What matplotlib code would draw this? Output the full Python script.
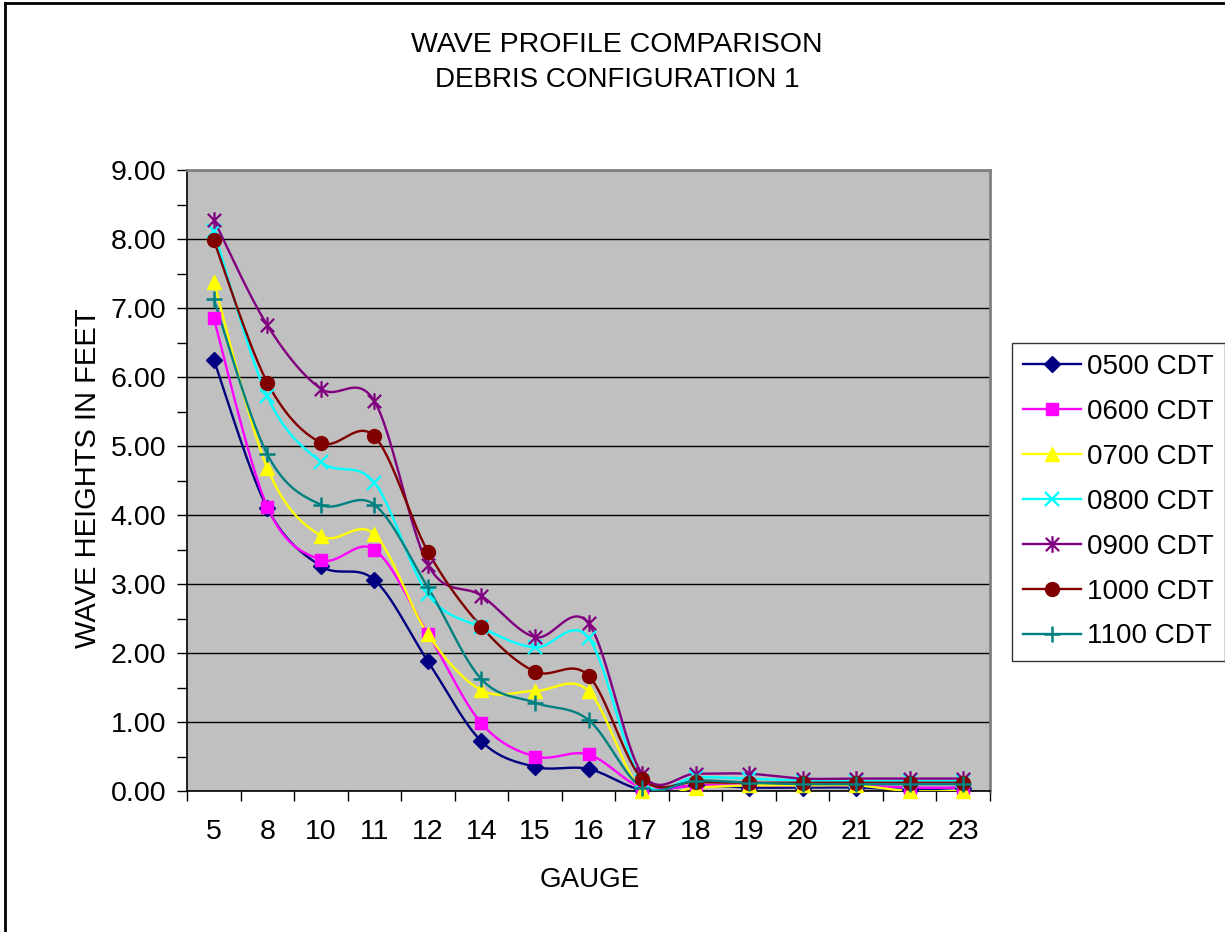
import numpy as np
import matplotlib
matplotlib.use("Agg")
import matplotlib.pyplot as plt
from matplotlib.path import Path
from matplotlib.lines import Line2D

plt.rcParams['font.family'] = ['Liberation Sans', 'DejaVu Sans']

gauges = ["5", "8", "10", "11", "12", "14", "15", "16", "17", "18", "19", "20", "21", "22", "23"]

s0500 = [6.25, 4.10, 3.26, 3.06, 1.88, 0.72, 0.35, 0.32, 0.02, 0.08, 0.05, 0.05, 0.05, 0.02, 0.05]
s0600 = [6.85, 4.12, 3.35, 3.50, 2.28, 0.98, 0.50, 0.53, 0.05, 0.08, 0.08, 0.08, 0.08, 0.05, 0.05]
s0700 = [7.38, 4.68, 3.70, 3.72, 2.27, 1.46, 1.45, 1.45, 0.00, 0.05, 0.08, 0.08, 0.08, 0.00, 0.00]
s0800 = [8.12, 5.72, 4.77, 4.47, 2.85, 2.37, 2.08, 2.22, 0.15, 0.20, 0.18, 0.15, 0.15, 0.15, 0.15]
s0900 = [8.28, 6.75, 5.83, 5.65, 3.28, 2.83, 2.23, 2.43, 0.25, 0.25, 0.25, 0.18, 0.18, 0.18, 0.18]
s1000 = [7.98, 5.92, 5.05, 5.14, 3.47, 2.38, 1.73, 1.67, 0.18, 0.13, 0.12, 0.12, 0.12, 0.12, 0.12]
s1100 = [7.13, 4.88, 4.15, 4.15, 2.95, 1.62, 1.28, 1.03, 0.05, 0.15, 0.12, 0.10, 0.10, 0.10, 0.10]

series_names = ["0500 CDT", "0600 CDT", "0700 CDT", "0800 CDT", "0900 CDT", "1000 CDT", "1100 CDT"]
series_values = [s0500, s0600, s0700, s0800, s0900, s1000, s1100]

colors = ["#000080", "#FF00FF", "#FFFF00", "#00FFFF", "#800080", "#800000", "#008080"]

star_path = Path([(-1, -1), (1, 1), (-1, 1), (1, -1), (0, -1.25), (0, 1.25)],
                 [Path.MOVETO, Path.LINETO, Path.MOVETO, Path.LINETO, Path.MOVETO, Path.LINETO])
markers = ["D", "s", "^", "x", star_path, "o", "+"]
msizes = [8, 9, 10, 10, 12, 10, 12]
mews = [1, 1, 1, 1.6, 1.6, 1, 1.8]


def smooth(xs, ys, n=30):
    xs = np.asarray(xs, float)
    ys = np.asarray(ys, float)
    P = np.column_stack([xs, ys])
    out = [P[0]]
    N = len(P)
    for i in range(N - 1):
        p0 = P[i - 1] if i > 0 else P[i]
        p1 = P[i]
        p2 = P[i + 1]
        p3 = P[i + 2] if i + 2 < N else P[i + 1]
        c1 = p1 + (p2 - p0) / 6.0
        c2 = p2 - (p3 - p1) / 6.0
        t = np.linspace(0, 1, n)[1:, None]
        seg = ((1 - t) ** 3) * p1 + 3 * ((1 - t) ** 2) * t * c1 + 3 * (1 - t) * t ** 2 * c2 + t ** 3 * p2
        out.extend(seg)
    out = np.array(out)
    return out[:, 0], out[:, 1]


fig = plt.figure(figsize=(12.25, 9.32), dpi=100)
ax = fig.add_axes([187 / 1225, 1 - 791 / 932, (990 - 187) / 1225, (791 - 170) / 932])
ax.set_facecolor("#C0C0C0")

x = np.arange(len(gauges))
handles = []
for name, vals, c, m, ms, mew in zip(series_names, series_values, colors, markers, msizes, mews):
    sx, sy = smooth(x, vals)
    ax.plot(sx, sy, color=c, lw=1.7, zorder=3, clip_on=True)
    ax.plot(x, vals, linestyle="none", marker=m, markersize=ms, color=c,
            markerfacecolor=c, markeredgecolor=c, markeredgewidth=mew, zorder=4, clip_on=False)
    handles.append(Line2D([0], [0], color=c, lw=1.7, marker=m, markersize=ms,
                          markerfacecolor=c, markeredgecolor=c, markeredgewidth=mew))

ax.set_xlim(-0.5, len(gauges) - 0.5)
ax.set_ylim(0, 9)
ax.set_yticks(np.arange(0, 9.01, 1.0))
ax.set_yticklabels([f"{v:.2f}" for v in np.arange(0, 9.01, 1.0)], fontsize=20.5)
ax.set_yticks(np.arange(0.5, 9, 1.0), minor=True)
ax.yaxis.grid(True, which="major", color="black", lw=1)
ax.set_axisbelow(True)

ax.set_xticks(np.arange(-0.5, len(gauges), 1.0))
ax.set_xticklabels([])
ax.set_xticks(x, minor=True)
ax.set_xticklabels(gauges, minor=True, fontsize=20.5)
ax.tick_params(axis="x", which="major", direction="out", length=7, width=1, color="black")
ax.tick_params(axis="x", which="minor", length=0, pad=20)
ax.tick_params(axis="y", which="major", direction="out", length=7, width=1, pad=8)
ax.tick_params(axis="y", which="minor", direction="out", length=7, width=1)

for side in ["top", "right"]:
    ax.spines[side].set_color("#808080")
    ax.spines[side].set_linewidth(2)
ax.spines["left"].set_color("black")
ax.spines["bottom"].set_color("black")
ax.spines["left"].set_linewidth(1.2)
ax.spines["bottom"].set_linewidth(1.2)

fig.text(617 / 1225, 1 - 45 / 932, "WAVE PROFILE COMPARISON", ha="center", va="center", fontsize=20.5)
fig.text(617 / 1225, 1 - 80 / 932, "DEBRIS CONFIGURATION 1", ha="center", va="center", fontsize=20)
fig.text(88 / 1225, 1 - 478 / 932, "WAVE HEIGHTS IN FEET", ha="center", va="center", rotation=90, fontsize=21)
fig.text(590 / 1225, 1 - 880 / 932, "GAUGE", ha="center", va="center", fontsize=20)

leg = fig.legend(handles, series_names, loc="upper left",
                 bbox_to_anchor=(1012 / 1225, 1 - 343 / 932), bbox_transform=fig.transFigure,
                 fontsize=20, frameon=True, fancybox=False, shadow=False,
                 handlelength=2.1, handletextpad=0.2, labelspacing=0.68, borderpad=0.4,
                 borderaxespad=0)
leg.get_frame().set_edgecolor("black")
leg.get_frame().set_linewidth(1)

fig.add_artist(Line2D([5 / 1225, 5 / 1225], [0, 1 - 3 / 932], transform=fig.transFigure, color="black", lw=2))
fig.add_artist(Line2D([5 / 1225, 1], [1 - 3 / 932, 1 - 3 / 932], transform=fig.transFigure, color="black", lw=2))

fig.savefig("out.png", dpi=100)
